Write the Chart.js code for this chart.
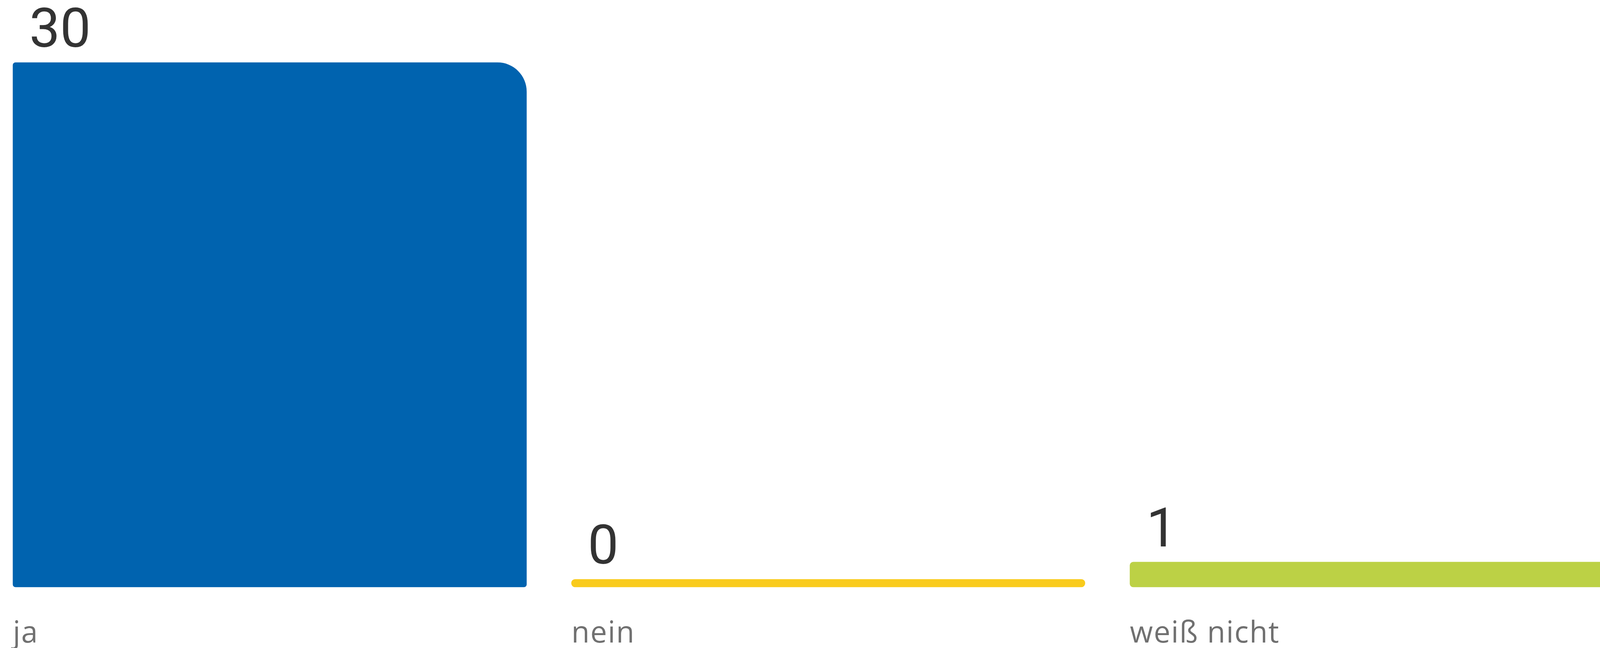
<!DOCTYPE html>
<html>
<head>
<meta charset="utf-8">
<script src="https://cdn.jsdelivr.net/npm/chart.js@4"></script>
<style>
  html, body { margin: 0; padding: 0; background: #ffffff; overflow: hidden; }
  #wrap { width: 4214px; height: 1659px; }
  canvas { display: block; }
</style>
</head>
<body>
<div id="wrap"><canvas id="c" width="4214" height="1659"></canvas></div>
<script>
// ---- data ----
const categories = ["ja", "nein", "weiß nicht"];
const values = [30, 0, 1];
const valueLabels = ["30", "0", "1"];

// ---- styles ----
const barColors = ["#0063AF", "#F9CB1C", "#BCD145"];
const barRadii = [
  { topLeft: 7, topRight: 75, bottomLeft: 7, bottomRight: 7 },
  10,
  9
];

const spacingPlugin = {
  id: "labelSpacing",
  beforeDraw(chart) {
    chart.ctx.letterSpacing = "2px";
  }
};

const valueLabelPlugin = {
  id: "valueLabels",
  afterDatasetsDraw(chart) {
    const ctx = chart.ctx;
    const meta = chart.getDatasetMeta(0);
    ctx.save();
    ctx.letterSpacing = "0px";
    ctx.font = '140px Roboto, "Liberation Sans", sans-serif';
    ctx.fillStyle = "#333333";
    ctx.textAlign = "left";
    ctx.textBaseline = "alphabetic";
    meta.data.forEach((bar, i) => {
      const left = bar.x - bar.width / 2;
      ctx.fillText(valueLabels[i], left + 42, bar.y - 40);
    });
    ctx.restore();
  }
};

new Chart(document.getElementById("c"), {
  type: "bar",
  data: {
    labels: categories,
    datasets: [{
      data: values,
      backgroundColor: barColors,
      borderWidth: 0,
      borderSkipped: false,
      borderRadius: (ctx) => barRadii[ctx.dataIndex],
      barThickness: 1315,
      base: -0.4535,
      clip: false
    }]
  },
  options: {
    responsive: false,
    devicePixelRatio: 1,
    animation: false,
    layout: { padding: { left: 690.5, right: 664, top: 160, bottom: 0 } },
    plugins: {
      legend: { display: false },
      tooltip: { enabled: false },
      title: { display: false }
    },
    scales: {
      x: {
        type: "category",
        offset: false,
        grid: { display: false, drawTicks: false },
        border: { display: false },
        ticks: {
          align: "start",
          labelOffset: -657.5,
          padding: 75,
          autoSkip: false,
          maxRotation: 0,
          minRotation: 0,
          color: "#707070",
          font: { family: "'Open Sans', sans-serif", size: 76 }
        },
        afterFit: (scale) => { scale.height = 156; }
      },
      y: {
        display: false,
        min: -0.4535,
        max: 30
      }
    }
  },
  plugins: [spacingPlugin, valueLabelPlugin]
});
</script>
</body>
</html>
